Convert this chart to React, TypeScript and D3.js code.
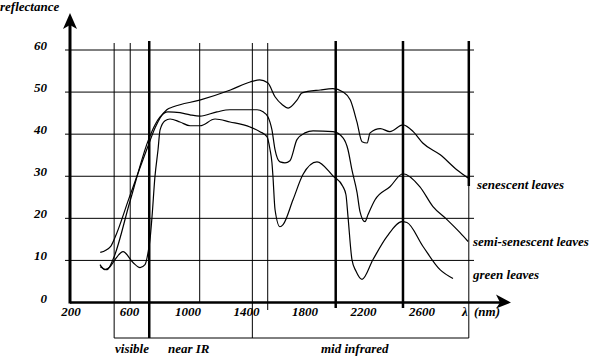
import React from "react";
import * as d3 from "d3";

// wavelength (nm), reflectance (%)
const senescent: [number, number][] = [
  [400, 11.9], [470, 13.3], [500, 15.4], [600, 25.1], [725, 37.0], [775, 41.5],
  [810, 43.9], [855, 45.8], [900, 46.5], [1080, 48.1], [1290, 50.5], [1425, 52.4],
  [1490, 52.9], [1545, 52.2], [1595, 48.9], [1645, 47.0], [1685, 46.2], [1745, 48.1],
  [1780, 49.8], [1905, 50.5], [1990, 50.8], [2060, 50.0], [2110, 48.1], [2155, 42.9],
  [2190, 38.2], [2225, 37.9], [2245, 40.3], [2315, 41.3], [2380, 40.6], [2470, 42.2],
  [2540, 40.6], [2605, 37.9], [2725, 35.1], [2840, 31.5], [2915, 29.6],
];
const semiSenescent: [number, number][] = [
  [400, 8.5], [446, 7.8], [487, 10.2], [603, 24.0], [727, 38.4], [774, 42.2],
  [809, 44.1], [863, 45.3], [945, 45.1], [1014, 44.6], [1082, 44.3], [1198, 45.3],
  [1287, 45.8], [1472, 45.8], [1513, 45.3], [1547, 44.1], [1574, 41.0], [1595, 36.3],
  [1629, 33.4], [1663, 33.2], [1697, 33.7], [1745, 38.7], [1800, 40.3], [1855, 40.8],
  [1991, 40.6], [2060, 39.1], [2094, 36.3], [2121, 31.5], [2156, 26.1], [2176, 21.6],
  [2210, 19.2], [2231, 20.9], [2279, 24.4], [2381, 27.5], [2470, 30.6], [2586, 27.5],
  [2675, 22.8], [2771, 19.7], [2860, 16.6], [2915, 14.5],
];
const green: [number, number][] = [
  [398, 9.0], [432, 7.8], [467, 8.5], [501, 10.2], [556, 12.1], [624, 9.5],
  [672, 8.3], [706, 9.0], [727, 11.9], [740, 14.9], [754, 20.4], [774, 29.9],
  [795, 36.3], [809, 41.0], [843, 43.2], [877, 43.6], [945, 42.9], [1014, 42.0],
  [1082, 42.0], [1185, 43.6], [1287, 42.9], [1424, 41.7], [1492, 40.6], [1540, 39.4],
  [1561, 36.3], [1574, 33.2], [1581, 29.9], [1595, 22.1], [1629, 18.0], [1650, 18.5],
  [1718, 24.4], [1786, 30.4], [1882, 33.4], [1991, 30.1], [2060, 27.5], [2080, 25.6],
  [2094, 20.4], [2121, 10.2], [2149, 7.4], [2190, 5.5], [2265, 10.2], [2361, 15.7],
  [2463, 19.2], [2497, 19.0], [2607, 13.3], [2723, 7.8], [2812, 5.7],
];

const xTicks = [200, 600, 1000, 1400, 1800, 2200, 2600];
const yTicks = [0, 10, 20, 30, 40, 50, 60];
const thinVerticals = [495, 605, 1080, 1440, 1545];
const thickVerticals = [735, 2010, 2470, 2920];
const regionLabels = ["visible", "near IR", "mid infrared"];
const seriesLabels = ["senescent leaves", "semi-senescent leaves", "green leaves"];

const x = d3.scaleLinear().domain([200, 2600]).range([71, 422]);
const y = d3.scaleLinear().domain([0, 60]).range([302.5, 50]);

const line = d3
  .line<[number, number]>()
  .x((d) => x(d[0]))
  .y((d) => y(d[1]))
  .curve(d3.curveMonotoneX);

export default function App() {
  const tp = {
    fontFamily: "Liberation Serif",
    fontStyle: "italic",
    fontWeight: "bold",
    fontSize: 13,
  } as const;
  const axisY = y(0);
  const bottomOf: Record<number, number> = {
    495: 338, 605: axisY, 1080: axisY, 1440: 338, 1545: 310,
    735: 338, 2010: 308, 2470: 308, 2920: 338,
  };
  return (
    <svg
      width={595}
      height={360}
      style={{ position: "absolute", left: 0, top: 0, background: "#fff" }}
    >
      <rect width={595} height={360} fill="#fff" />
      {yTicks
        .filter((t) => t > 0)
        .map((t) => (
          <line key={t} x1={65} x2={474} y1={y(t)} y2={y(t)} stroke="#000" strokeWidth={1} />
        ))}
      {thinVerticals.map((v) => (
        <line key={"t" + v} x1={x(v)} x2={x(v)} y1={43} y2={bottomOf[v]} stroke="#000" strokeWidth={1} />
      ))}
      {thickVerticals.map((v) =>
        v === 2920 ? (
          <g key={"k" + v}>
            <line x1={x(v)} x2={x(v)} y1={41} y2={186} stroke="#000" strokeWidth={2.5} />
            <line x1={x(v)} x2={x(v)} y1={186} y2={338} stroke="#000" strokeWidth={1} />
          </g>
        ) : (
          <line key={"k" + v} x1={x(v)} x2={x(v)} y1={41} y2={bottomOf[v]} stroke="#000" strokeWidth={2.5} />
        )
      )}
      <line x1={x(495)} x2={x(2920)} y1={338} y2={338} stroke="#000" strokeWidth={1} />
      <line x1={70} x2={70} y1={axisY + 1} y2={20} stroke="#000" strokeWidth={3} />
      <path d="M70,13 L63,29 L70,25 L77,29 Z" fill="#000" />
      <line x1={70} x2={505} y1={axisY} y2={axisY} stroke="#000" strokeWidth={2.5} />
      <path d={`M511,${axisY} L496,${axisY - 8} L500,${axisY} L496,${axisY + 6} Z`} fill="#000" />
      {[senescent, semiSenescent, green].map((s, i) => (
        <path key={i} d={line(s) || ""} fill="none" stroke="#000" strokeWidth={1.2} />
      ))}
      {yTicks.map((t) => (
        <text key={t} x={47} y={y(t)} textAnchor="end" {...tp}>
          {t}
        </text>
      ))}
      <text x={0} y={11} {...tp}>reflectance</text>
      {xTicks.map((t) => (
        <text key={t} x={x(t)} y={316} textAnchor="middle" {...tp}>
          {t}
        </text>
      ))}
      <text x={462} y={316} {...tp}>λ</text>
      <text x={474} y={316} {...tp}>(nm)</text>
      <text x={115} y={353} {...tp}>{regionLabels[0]}</text>
      <text x={168} y={353} {...tp}>{regionLabels[1]}</text>
      <text x={321} y={353} {...tp}>{regionLabels[2]}</text>
      <text x={477} y={189} {...tp}>{seriesLabels[0]}</text>
      <text x={473} y={246} {...tp}>{seriesLabels[1]}</text>
      <text x={473} y={279} {...tp}>{seriesLabels[2]}</text>
    </svg>
  );
}
